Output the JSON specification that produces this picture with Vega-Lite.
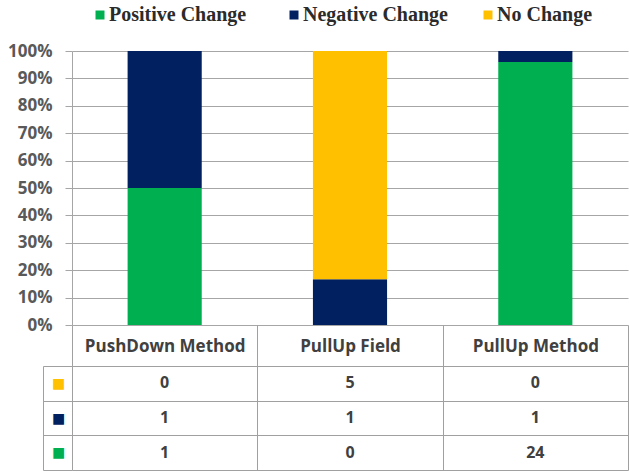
{
  "$schema": "https://vega.github.io/schema/vega-lite/v6.json",
  "background": "white",
  "padding": {"left": 7, "top": 5, "right": 0, "bottom": 0},
  "autosize": {"type": "pad"},
  "bounds": "flush",
  "spacing": 41,
  "config": {"view": {"stroke": null}, "font": "Open Sans"},
  "data": {
    "values": [
      {"method": "PushDown Method", "change": "Positive Change", "count": 1},
      {"method": "PushDown Method", "change": "Negative Change", "count": 1},
      {"method": "PushDown Method", "change": "No Change", "count": 0},
      {"method": "PullUp Field", "change": "Positive Change", "count": 0},
      {"method": "PullUp Field", "change": "Negative Change", "count": 1},
      {"method": "PullUp Field", "change": "No Change", "count": 5},
      {"method": "PullUp Method", "change": "Positive Change", "count": 24},
      {"method": "PullUp Method", "change": "Negative Change", "count": 1},
      {"method": "PullUp Method", "change": "No Change", "count": 0}
    ]
  },
  "vconcat": [
    {
      "width": 556,
      "height": 274,
      "transform": [
        {"calculate": "indexof(['Positive Change', 'Negative Change', 'No Change'], datum.change)", "as": "stackOrder"}
      ],
      "mark": {"type": "bar", "width": {"band": 0.4}},
      "encoding": {
        "x": {
          "field": "method", "type": "nominal",
          "sort": ["PushDown Method", "PullUp Field", "PullUp Method"],
          "scale": {"paddingInner": 0, "paddingOuter": 0},
          "axis": null
        },
        "y": {
          "field": "count", "type": "quantitative", "stack": "normalize",
          "scale": {"domain": [0, 1]},
          "axis": {
            "title": null, "format": "%",
            "values": [0, 0.1, 0.2, 0.3, 0.4, 0.5, 0.6, 0.7, 0.8, 0.9, 1],
            "grid": true, "gridColor": "#a6a6a6", "domainColor": "#a6a6a6",
            "tickColor": "#a6a6a6", "tickSize": 7, "labelPadding": 13,
            "labelFontSize": 17, "labelFontWeight": "bold", "labelColor": "#595959",
            "labelFont": "Open Sans"
          }
        },
        "order": {"field": "stackOrder", "type": "quantitative", "sort": "ascending"},
        "color": {
          "field": "change", "type": "nominal",
          "scale": {
            "domain": ["Positive Change", "Negative Change", "No Change"],
            "range": ["#00B050", "#002060", "#FFC000"]
          },
          "legend": {
            "title": null, "orient": "none", "direction": "horizontal",
            "legendX": 18, "legendY": -46, "padding": 0,
            "gridAlign": "all", "columnPadding": 30,
            "symbolType": "square", "symbolSize": 81, "symbolStrokeWidth": 0,
            "labelFont": "Liberation Serif", "labelFontSize": 20,
            "labelFontWeight": "bold", "labelColor": "#2b2b2b", "labelOffset": -1,
            "labelLimit": 300
          }
        }
      }
    },
    {
      "width": 556,
      "height": 104,
      "mark": {"type": "text", "fontSize": 16, "fontWeight": "bold", "color": "#404040", "font": "Open Sans"},
      "encoding": {
        "x": {
          "field": "method", "type": "nominal",
          "sort": ["PushDown Method", "PullUp Field", "PullUp Method"],
          "scale": {"paddingInner": 0, "paddingOuter": 0},
          "axis": {
            "orient": "top", "title": null, "labelAngle": 0,
            "tickBand": "extent", "tickSize": 41, "tickColor": "#a0a0a0",
            "grid": true, "gridColor": "#a0a0a0", "domain": false,
            "labelPadding": -21, "labelBaseline": "middle",
            "labelFontSize": 17, "labelFontWeight": "bold",
            "labelColor": "#404040", "labelFont": "Open Sans"
          }
        },
        "y": {
          "field": "change", "type": "nominal",
          "sort": ["No Change", "Negative Change", "Positive Change"],
          "scale": {"paddingInner": 0, "paddingOuter": 0},
          "axis": {
            "title": null, "offset": 29, "tickSize": -29, "tickBand": "extent",
            "grid": true, "gridColor": "#a0a0a0", "tickColor": "#a0a0a0",
            "domainColor": "#a0a0a0",
            "labelExpr": "indexof(['No Change', 'Negative Change', 'Positive Change'], datum.value) >= 0 ? '■' : ''",
            "labelAlign": "center",
            "labelPadding": 14, "labelFontSize": 14, "labelFont": "DejaVu Sans",
            "labelColor": {
              "condition": [
                {"test": "datum.value === 'No Change'", "value": "#FFC000"},
                {"test": "datum.value === 'Negative Change'", "value": "#002060"}
              ],
              "value": "#00B050"
            }
          }
        },
        "text": {"field": "count", "type": "quantitative"}
      }
    }
  ]
}
